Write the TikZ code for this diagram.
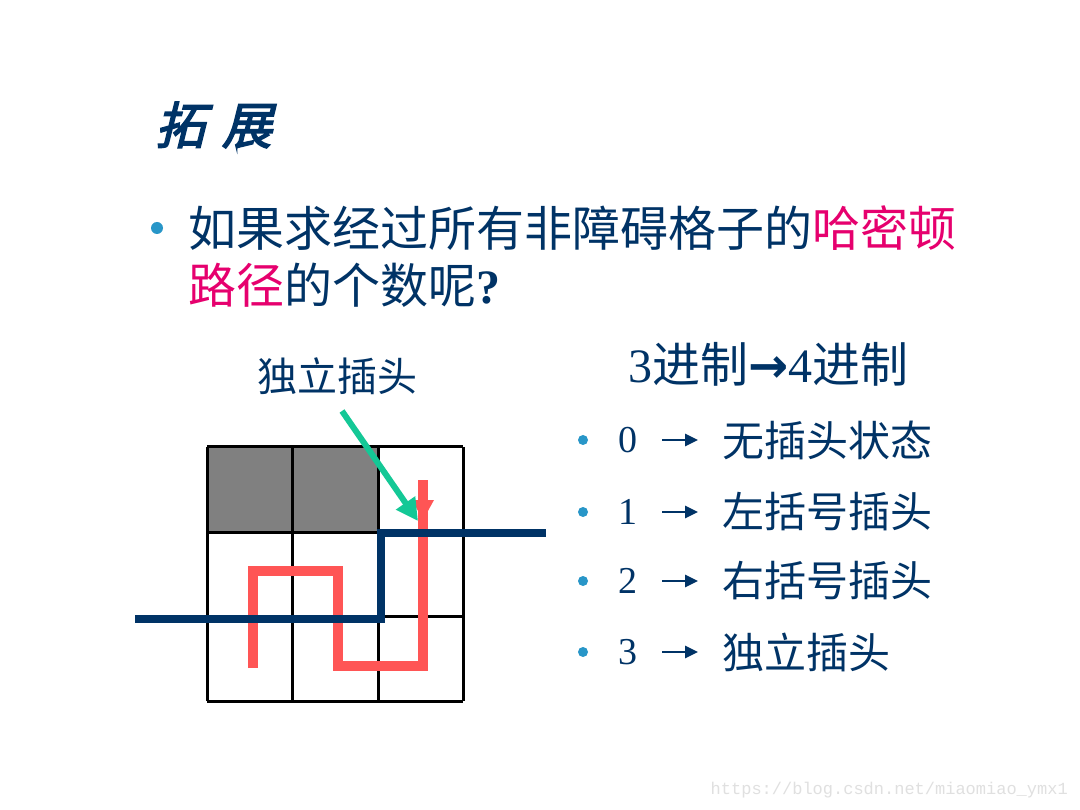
\documentclass[tikz,border=0pt]{standalone}
\usepackage{fontspec}
\usetikzlibrary{arrows.meta}
\setmainfont{Liberation Serif}
\newfontfamily\cjk{Noto Sans CJK SC}
\newfontfamily\cjkt[FakeSlant=0.25,FakeBold=3]{Noto Sans CJK SC}
\newfontfamily\sym{DejaVu Sans}
\newfontfamily\mono{Liberation Mono}
\definecolor{txtblue}{RGB}{0,51,102}
\definecolor{mag}{RGB}{230,0,110}
\definecolor{dotblue}{RGB}{40,150,200}
\definecolor{pathred}{RGB}{255,85,85}
\definecolor{pathblue}{RGB}{0,51,102}
\definecolor{arrgreen}{RGB}{20,200,150}
\definecolor{cellgray}{RGB}{128,128,128}
\tikzset{
  txt/.style={text=txtblue, inner sep=0pt},
  bul/.style={fill=dotblue},
  gridline/.style={draw=black, line width=3pt},
  redpath/.style={draw=pathred, line width=10pt, line join=miter},
  bluepath/.style={draw=pathblue, line width=8.5pt, line join=miter},
  listarrow/.style={draw=txtblue, line width=2.6pt, -{Triangle[length=13pt,width=12pt]}},
}
\begin{document}
\begin{tikzpicture}[x=1pt,y=-1pt]
\useasboundingbox (0,0) rectangle (1080,810);
\fill[white] (0,0) rectangle (1080,810);
% title
\node[txt, anchor=west, font=\cjkt\fontsize{50}{60}\selectfont] (title) at (155,125) {拓\,\,展};
% main bullet
\fill[bul] (157,228) circle (6pt);
\node[txt, anchor=west, font=\cjk\fontsize{48}{58}\selectfont] (q1) at (188,228) {如果求经过所有非障碍格子的\textcolor{mag}{哈密顿}};
\node[txt, anchor=west, font=\cjk\fontsize{48}{58}\selectfont] (q2) at (188,285) {\textcolor{mag}{路径}的个数呢\textrm{\bfseries ?}};
% grid
\fill[cellgray] (207,447) rectangle (378,532);
\foreach \x in {207,292,378,463} \draw[gridline] (\x,447) -- (\x,701);
\foreach \y in {447,532,616,701} \draw[gridline] (207,\y) -- (463,\y);
% red path
\coordinate (r0) at (253,668);
\coordinate (r1) at (253,571);
\coordinate (r2) at (338,571);
\coordinate (r3) at (338,666);
\coordinate (r4) at (423,666);
\coordinate (r5) at (423,480);
\draw[redpath] (r0) -- (r1) -- (r2) -- (r3) -- (r4) -- (r5);
\fill[pathred] (412,500) -- (434,500) -- (423,520) -- cycle;
% blue path
\coordinate (p0) at (135,619);
\coordinate (p1) at (381,619);
\coordinate (p2) at (381,533);
\coordinate (p3) at (546,533);
\draw[bluepath] (p0) -- (p1) -- (p2) -- (p3);
% label and green arrow
\node[txt, font=\cjk\fontsize{40}{48}\selectfont] (lab) at (337,376) {独立插头};
\coordinate (g0) at (342,411);
\coordinate (g1) at (418,521);
\draw[arrgreen, line width=6pt, -{Triangle[length=22pt,width=22pt]}] (g0) -- (g1);
% right side
\node[txt, anchor=west, font=\cjk\fontsize{48}{56}\selectfont] (hdr) at (628,364) {\rmfamily 3\cjk 进制{\sym\bfseries →}\rmfamily 4\cjk 进制};
\foreach \i/\n/\t/\y in {0/0/无插头状态/440, 1/1/左括号插头/512, 2/2/右括号插头/581, 3/3/独立插头/652}{
  \fill[bul] (583,\y) circle (5pt);
  \node[txt, font=\rmfamily\fontsize{38}{44}\selectfont] (n\i) at (628,\y) {\n};
  \coordinate (as\i) at (662,\y);
  \coordinate (ae\i) at (698,\y);
  \draw[listarrow] (as\i) -- (ae\i);
  \node[txt, anchor=west, font=\cjk\fontsize{42}{50}\selectfont] (t\i) at (722,\y) {\t};
}
% watermark
\node[inner sep=0pt, anchor=east, text=black!12, font=\mono\fontsize{17}{20}\selectfont] (wm) at (1068,790) {https://blog.csdn.net/miaomiao\_ymx1};
\end{tikzpicture}
\end{document}
